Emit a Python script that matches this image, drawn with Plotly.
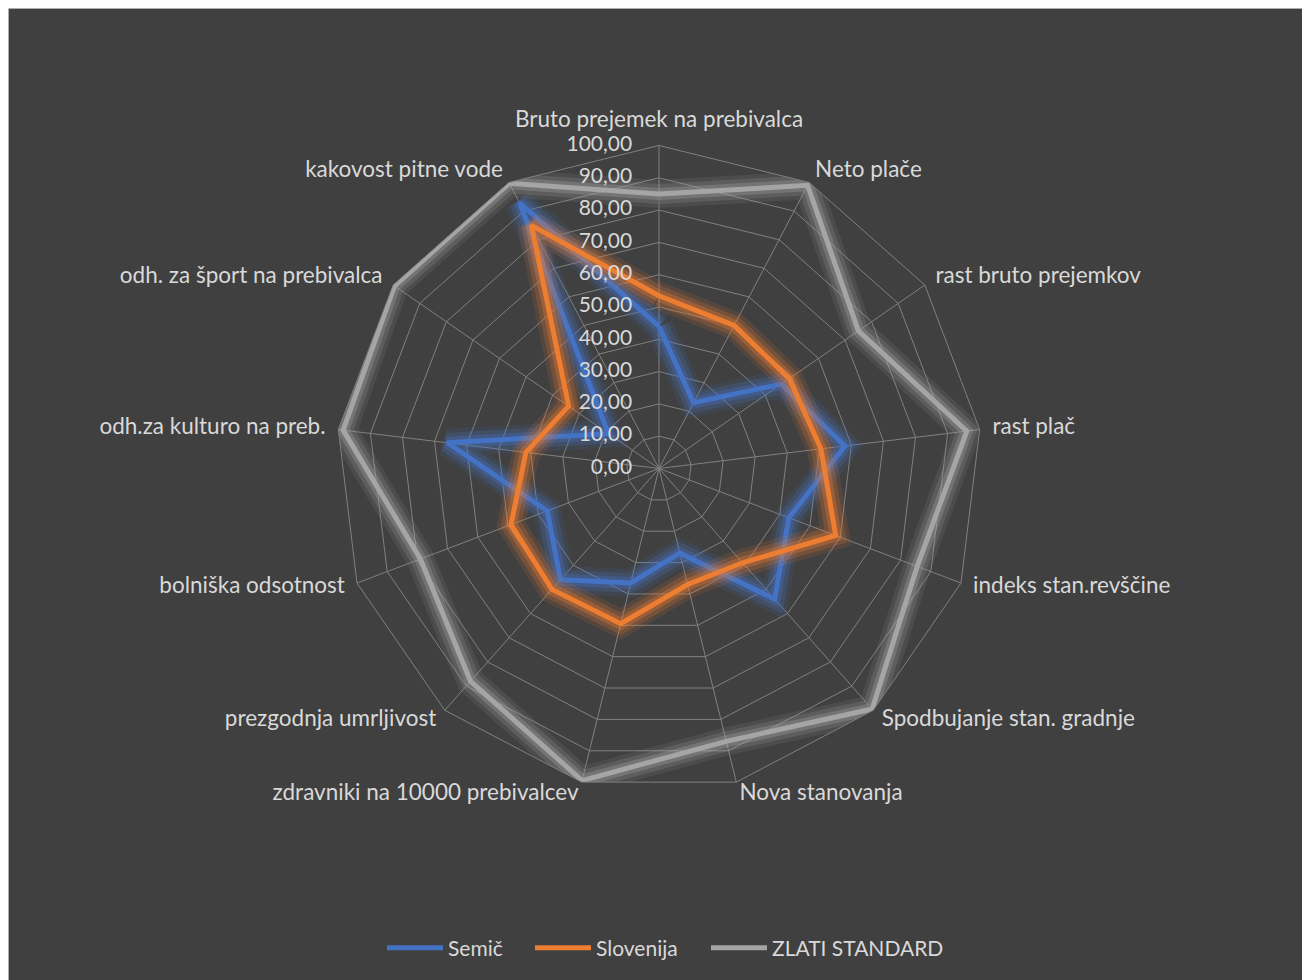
import plotly.graph_objects as go

categories = [
    "Bruto prejemek na prebivalca", "Neto plače", "rast bruto prejemkov", "rast plač",
    "indeks stan.revščine", "Spodbujanje stan. gradnje", "Nova stanovanja",
    "zdravniki na 10000 prebivalcev", "prezgodnja umrljivost", "bolniška odsotnost",
    "odh.za kulturo na preb.", "odh. za šport na prebivalca", "kakovost pitne vode",
]
semic = [44, 23, 46, 58, 43, 54, 27, 36.5, 46, 37, 66, 19, 93]
slovenija = [53.5, 50, 49, 50.5, 58.5, 39, 37, 49.5, 50, 49, 41.5, 34, 85]
zlati = [85, 99, 75, 96, 85.5, 99.5, 87, 99.5, 88, 79, 98.5, 99.5, 99.7]
tick_vals = [0, 10, 20, 30, 40, 50, 60, 70, 80, 90, 100]
tick_text = ["0,00", "10,00", "20,00", "30,00", "40,00", "50,00", "60,00",
             "70,00", "80,00", "90,00", "100,00"]

series = [("Semič", semic, (68, 114, 196)), ("Slovenija", slovenija, (237, 125, 49)),
          ("ZLATI STANDARD", zlati, (165, 165, 165))]

W, H = 1310, 980
cx, cy, R = 651, 460.5, 323
FONT = "Lato, Open Sans, sans-serif"
TXT = "#D9D9D9"
GRID = "#808080"
LABEL_SCALE = 1.04          # category labels sit just beyond the 100 ring
PAD = "\u00a0" * 5

label_pos = ["top center"] + ["middle right"] * 6 + ["middle left"] * 6
glow = [(28, 0.12), (20, 0.20), (12, 0.32)]


def domain(rad):
    return dict(x=[(cx - rad) / W, (cx + rad) / W], y=[1 - (cy + rad) / H, 1 - (cy - rad) / H])


def rgba(c, a):
    return f"rgba({c[0]},{c[1]},{c[2]},{a})"


fig = go.Figure()
# category labels on an invisible, slightly larger polar frame sharing the same centre
fig.add_trace(go.Scatterpolar(r=[100] * len(categories), theta=categories, subplot="polar2",
                              mode="text", text=categories, textposition=label_pos,
                              textfont=dict(family=FONT, size=22.5, color=TXT),
                              cliponaxis=False, showlegend=False, hoverinfo="skip"))
for i, (name, vals, col) in enumerate(series):
    th = categories + [categories[0]]
    rr = vals + [vals[0]]
    for w, op in glow:
        fig.add_trace(go.Scatterpolar(r=rr, theta=th, mode="lines", showlegend=False,
                                      hoverinfo="skip",
                                      line=dict(color=rgba(col, op), width=w)))
    fig.add_trace(go.Scatterpolar(r=rr, theta=th, mode="lines", name=name,
                                  legend="legend" if i == 0 else f"legend{i + 1}",
                                  line=dict(color=rgba(col, 1), width=5)))
# radial tick labels along the top spoke (same scale, circular frame so r=0 is kept)
fig.add_trace(go.Scatterpolar(r=tick_vals, theta=[0] * len(tick_vals), subplot="polar3",
                              mode="text", text=[t + PAD for t in tick_text],
                              textposition="middle left",
                              textfont=dict(family=FONT, size=21, color=TXT),
                              cliponaxis=False, showlegend=False, hoverinfo="skip"))

leg_common = dict(orientation="h", y=1 - 940 / H, yanchor="middle", xanchor="left",
                  font=dict(family=FONT, size=21, color=TXT), bgcolor="rgba(0,0,0,0)",
                  itemwidth=56)
leg_x = [374, 522, 698]

hidden_angular = dict(rotation=90, direction="clockwise", showline=False,
                      showgrid=False, ticks="", showticklabels=False)

fig.update_layout(
    width=W, height=H,
    margin=dict(l=0, r=0, t=0, b=0),
    paper_bgcolor="#404040",
    font=dict(family=FONT, color=TXT, size=21),
    polar=dict(
        domain=domain(R),
        bgcolor="rgba(0,0,0,0)",
        gridshape="linear",
        angularaxis=dict(rotation=90, direction="clockwise", showline=True,
                         linecolor=GRID, linewidth=1,
                         gridcolor=GRID, gridwidth=1, ticks="", showticklabels=False),
        radialaxis=dict(range=[0, 100], tickvals=tick_vals, showticklabels=False,
                        angle=90, showline=False, ticks="",
                        gridcolor=GRID, gridwidth=1),
    ),
    polar2=dict(
        domain=domain(R * LABEL_SCALE),
        bgcolor="rgba(0,0,0,0)",
        gridshape="linear",
        angularaxis=hidden_angular,
        radialaxis=dict(range=[0, 100], visible=False, showgrid=False),
    ),
    polar3=dict(
        domain=domain(R),
        bgcolor="rgba(0,0,0,0)",
        angularaxis=dict(hidden_angular, direction="counterclockwise", rotation=90),
        radialaxis=dict(range=[0, 100], visible=False, showgrid=False),
    ),
    legend=dict(leg_common, x=leg_x[0] / W),
    legend2=dict(leg_common, x=leg_x[1] / W),
    legend3=dict(leg_common, x=leg_x[2] / W),
    shapes=[
        dict(type="rect", xref="paper", yref="paper", x0=0, x1=1, y0=0, y1=1,
             fillcolor="rgba(0,0,0,0)", line=dict(width=1.5, color="#D0D0D0"), layer="above"),
    ],
)

fig.write_html("out.html")
